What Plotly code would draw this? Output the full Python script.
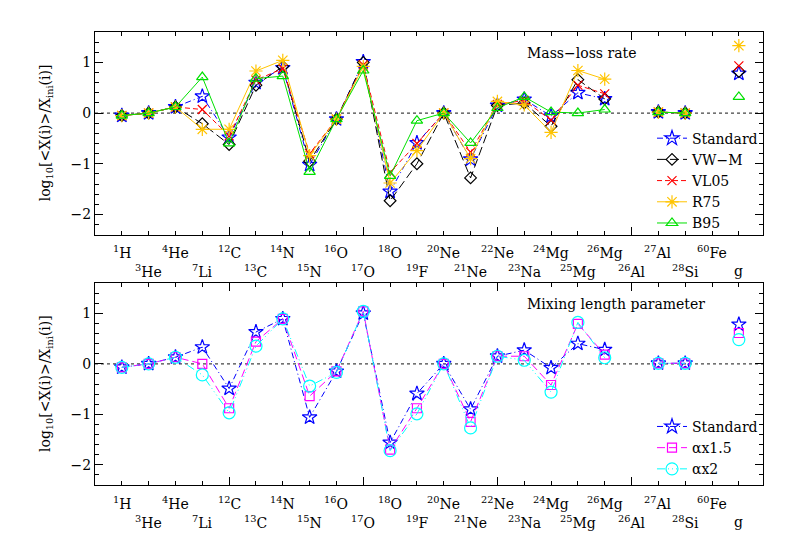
import plotly.graph_objects as go

# ---------------- data ----------------
labels = ["<sup>1</sup>H", "<sup>3</sup>He", "<sup>4</sup>He", "<sup>7</sup>Li",
          "<sup>12</sup>C", "<sup>13</sup>C", "<sup>14</sup>N", "<sup>15</sup>N",
          "<sup>16</sup>O", "<sup>17</sup>O", "<sup>18</sup>O", "<sup>19</sup>F",
          "<sup>20</sup>Ne", "<sup>21</sup>Ne", "<sup>22</sup>Ne", "<sup>23</sup>Na",
          "<sup>24</sup>Mg", "<sup>25</sup>Mg", "<sup>26</sup>Mg", "<sup>26</sup>Al",
          "<sup>27</sup>Al", "<sup>28</sup>Si", "<sup>60</sup>Fe", "g"]
positions = list(range(1, len(labels) + 1))

# top panel: mass-loss rate
standard = [-0.05, 0.0, 0.12, 0.33, -0.48, 0.60, 0.89, -1.02, -0.12, 1.01, -1.55, -0.59,
            0.0, -0.91, 0.15, 0.27, -0.06, 0.40, 0.28, None, 0.02, 0.0, None, 0.78]
vw_m = [-0.05, 0.0, 0.12, -0.21, -0.62, 0.55, 0.92, -0.95, -0.12, 1.00, -1.73, -1.00,
        0.0, -1.28, 0.15, 0.20, -0.26, 0.66, 0.28, None, 0.02, 0.0, None, 0.82]
vl05 = [-0.05, 0.0, 0.12, 0.07, -0.45, 0.65, 0.88, -0.80, -0.12, 0.95, -1.17, -0.60,
        0.0, -0.77, 0.17, 0.25, -0.14, 0.55, 0.38, None, 0.02, 0.0, None, 0.93]
r75 = [-0.05, 0.0, 0.12, -0.32, -0.32, 0.83, 1.04, -0.84, -0.12, 0.92, -1.38, -0.74,
       0.0, -0.90, 0.23, 0.16, -0.38, 0.84, 0.67, None, 0.02, 0.0, None, 1.33]
b95 = [-0.05, 0.0, 0.12, 0.71, -0.60, 0.68, 0.73, -1.16, -0.12, 0.84, -1.24, -0.15,
       0.0, -0.59, 0.10, 0.32, 0.02, 0.0, 0.07, None, 0.02, 0.0, None, 0.32]

# bottom panel: mixing length parameter
standard_ml = [-0.07, 0.0, 0.13, 0.33, -0.49, 0.63, 0.89, -1.06, -0.15, 1.00, -1.56, -0.59,
               0.0, -0.90, 0.15, 0.27, -0.08, 0.40, 0.28, None, 0.01, 0.01, None, 0.78]
alpha15 = [-0.07, 0.0, 0.13, 0.0, -0.88, 0.44, 0.89, -0.64, -0.15, 1.04, -1.70, -0.88,
           0.0, -1.15, 0.15, 0.15, -0.42, 0.79, 0.18, None, 0.01, 0.01, None, 0.61]
alpha2 = [-0.07, 0.0, 0.13, -0.22, -0.97, 0.35, 0.89, -0.44, -0.17, 1.04, -1.72, -0.99,
          0.0, -1.27, 0.15, 0.07, -0.56, 0.82, 0.12, None, 0.01, 0.01, None, 0.48]

FONT = "DejaVu Serif"

top_series = [
    ("Standard", standard, "#0000FF", "star-open", 11, "6px,3px,1px,3px"),
    ("VW\u2212M", vw_m, "#000000", "diamond-open", 9, "9px,4px"),
    ("VL05", vl05, "#FF0000", "x-thin-open", 9, "5px,3px"),
    ("R75", r75, "#FFC400", "asterisk-open", 11, "solid"),
    ("B95", b95, "#00E000", "triangle-up-open", 10, "solid"),
]
bottom_series = [
    ("Standard", standard_ml, "#0000FF", "star-open", 11, "6px,3px,1px,3px"),
    ("\u03b1x1.5", alpha15, "#FF00FF", "square-open", 9, "8px,4px"),
    ("\u03b1x2", alpha2, "#00FFFF", "circle-open", 12, "8px,3px,1px,3px,1px,3px,1px,3px"),
]

fig = go.Figure()

for name, vals, col, sym, size, dash in top_series:
    fig.add_trace(go.Scatter(
        x=positions, y=vals, name=name, mode="lines+markers",
        line=dict(color=col, width=1, dash=dash),
        marker=dict(symbol=sym, size=size, color=col, line=dict(width=1.2, color=col)),
        xaxis="x", yaxis="y", legend="legend", connectgaps=False))

for name, vals, col, sym, size, dash in bottom_series:
    fig.add_trace(go.Scatter(
        x=positions, y=vals, name=name, mode="lines+markers",
        line=dict(color=col, width=1, dash=dash),
        marker=dict(symbol=sym, size=size, color=col, line=dict(width=1.2, color=col)),
        xaxis="x2", yaxis="y2", legend="legend2", connectgaps=False))

xcommon = dict(range=[0, 24.9], tickmode="array", tickvals=[5, 10, 15, 20],
               showticklabels=False, ticks="inside", ticklen=8, tickcolor="black",
               minor=dict(dtick=1, tick0=0, ticks="inside", ticklen=4, tickcolor="black"),
               showline=True, linecolor="black", linewidth=1, mirror="ticks",
               showgrid=False, zeroline=False)
ycommon = dict(range=[-2.4, 1.6], tick0=0, dtick=1, ticks="inside", ticklen=8,
               tickcolor="black",
               minor=dict(dtick=0.2, tick0=0, ticks="inside", ticklen=4, tickcolor="black"),
               showline=True, linecolor="black", linewidth=1, mirror="ticks",
               showgrid=False, zeroline=False,
               tickfont=dict(family=FONT, size=14, color="black"))

fig.update_layout(
    width=797, height=534,
    margin=dict(l=87, r=42, t=24, b=57),
    paper_bgcolor="white", plot_bgcolor="white",
    font=dict(family=FONT, size=14, color="black"),
    xaxis=dict(domain=[0, 1], anchor="y", **xcommon),
    yaxis=dict(domain=[0.5526, 1], anchor="x", **ycommon),
    xaxis2=dict(domain=[0, 1], anchor="y2", **xcommon),
    yaxis2=dict(domain=[0, 0.4459], anchor="x2", **ycommon),
    legend=dict(x=1.0, xanchor="right", y=0.672, yanchor="middle",
                bgcolor="rgba(0,0,0,0)", borderwidth=0, itemwidth=30,
                font=dict(family=FONT, size=14, color="black"), tracegroupgap=0),
    legend2=dict(x=1.0, xanchor="right", y=0.082, yanchor="middle",
                 bgcolor="rgba(0,0,0,0)", borderwidth=0, itemwidth=30,
                 font=dict(family=FONT, size=14, color="black"), tracegroupgap=0),
    showlegend=True,
)

# dotted zero lines
for yr in ["y", "y2"]:
    xr = "x domain" if yr == "y" else "x2 domain"
    fig.add_shape(type="line", xref=xr, x0=0, x1=1, yref=yr, y0=0, y1=0,
                  line=dict(color="#444444", width=1.2, dash="dot"), layer="below")

# category labels in two staggered rows
for xr, yd, s_up, s_dn in [("x", "y domain", -17, -36), ("x2", "y2 domain", -18, -37)]:
    for i, (p, lab) in enumerate(zip(positions, labels)):
        fig.add_annotation(x=p, xref=xr, y=0, yref=yd, text=lab, showarrow=False,
                           xanchor="center", yanchor="middle",
                           yshift=s_up if i % 2 == 0 else s_dn,
                           font=dict(family=FONT, size=14, color="black"))

# y-axis titles
ytitle = "log<sub>10</sub>[&lt;X(i)&gt;/X<sub>ini</sub>(i)]"
for yd in ["y domain", "y2 domain"]:
    fig.add_annotation(x=0, xref="paper", y=0.5, yref=yd, text=ytitle, showarrow=False,
                       textangle=-90, xanchor="center", yanchor="middle", xshift=-49,
                       font=dict(family=FONT, size=14, color="black"))

# panel captions
fig.add_annotation(x=0.644, xref="x domain", y=(477.7 - 45) / 453.7, yref="paper",
                   text="Mass\u2212loss rate", showarrow=False,
                   xanchor="left", yanchor="middle",
                   font=dict(family=FONT, size=14, color="black"))
fig.add_annotation(x=0.644, xref="x2 domain", y=(477.7 - 296) / 453.7, yref="paper",
                   text="Mixing length parameter", showarrow=False,
                   xanchor="left", yanchor="middle",
                   font=dict(family=FONT, size=14, color="black"))

fig.write_html("out.html")
